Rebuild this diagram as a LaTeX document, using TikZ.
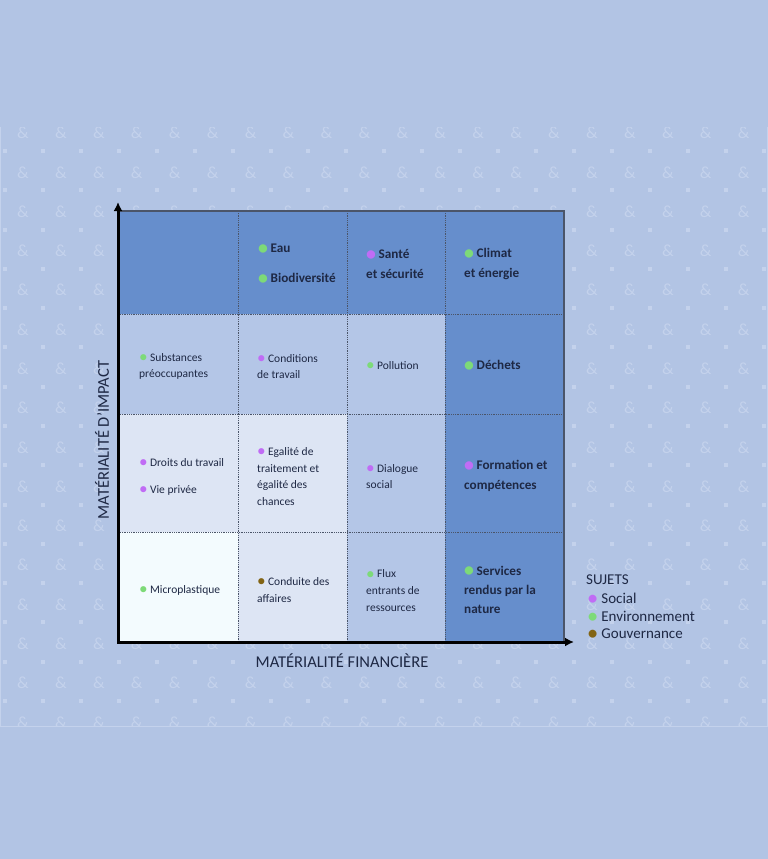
\documentclass[tikz,border=0pt]{standalone}
\usepackage{fontspec}
\setmainfont{Carlito}
\usetikzlibrary{arrows.meta}

\definecolor{bgblue}{RGB}{178,196,228}
\definecolor{pattblue}{RGB}{196,210,236}
\definecolor{celldark}{RGB}{102,142,204}
\definecolor{cellmid}{RGB}{180,198,231}
\definecolor{celllight}{RGB}{221,229,244}
\definecolor{cellpale}{RGB}{243,251,254}
\definecolor{inktext}{RGB}{30,40,68}
\definecolor{gridgray}{RGB}{75,85,105}
\definecolor{soc}{RGB}{192,108,245}
\definecolor{env}{RGB}{125,218,120}
\definecolor{gov}{RGB}{130,100,20}

\newcommand\dotc[1]{{\color{#1}\raisebox{-0.12em}{\scalebox{1.5}{\textbullet}}}\hspace{0.2em}}

\tikzset{
  amp/.style={text=pattblue,font=\fontsize{17}{17}\selectfont,inner sep=0pt},
  bigtxt/.style={text=inktext,font=\fontsize{13.2}{19.3}\selectfont\bfseries,align=left,inner sep=0pt,anchor=west},
  smalltxt/.style={text=inktext,font=\fontsize{11.5}{16.7}\selectfont,align=left,inner sep=0pt,anchor=west},
  axislabel/.style={text=inktext,font=\fontsize{16.5}{16.5}\selectfont,inner sep=0pt},
  legendtxt/.style={text=inktext,font=\fontsize{15}{15}\selectfont,inner sep=0pt,anchor=west},
  gridline/.style={gridgray,densely dotted,line width=0.8pt}
}

\begin{document}
\begin{tikzpicture}[x=1pt,y=-1pt]
    \useasboundingbox (0,0) rectangle (768,859);
    \fill[bgblue] (0,0) rectangle (768,859);

    % background band
    \begin{scope}
        \clip (0,127) rectangle (767,726);
        \foreach \i in {0,...,19}
            \foreach \j in {0,...,15}
                \node[amp] (amp-\i-\j) at (23+37.93*\i,133+39.29*\j) {\&};
        \foreach \i in {0,...,20}
            \foreach \j in {0,...,14}
                \fill[pattblue] (3+37.93*\i,149+39.29*\j) rectangle +(4,4);
    \end{scope}
    \draw[pattblue,line width=0.6pt] (0.5,127) -- (0.5,726) -- (767,726) -- (767,127);

    % cells
    \fill[celldark] (120,211) rectangle (564,314);
    \fill[celldark] (445,314) rectangle (564,641);
    \fill[cellmid] (120,314) rectangle (445,414);
    \fill[cellmid] (347,414) rectangle (445,641);
    \fill[celllight] (120,414) rectangle (347,532);
    \fill[celllight] (238,532) rectangle (347,641);
    \fill[cellpale] (120,532) rectangle (238,641);

    \draw[gridline] (238,211) -- (238,641);
    \draw[gridline] (347,211) -- (347,641);
    \draw[gridline] (445,211) -- (445,641);
    \draw[gridline] (120,314) -- (564,314);
    \draw[gridline] (120,414) -- (564,414);
    \draw[gridline] (120,532) -- (564,532);
    \draw[gridgray,line width=1.3pt] (120,211) -- (564,211) -- (564,641);

    % axes
    \draw[black,line width=3pt,{Latex[length=9pt,width=9pt]}-{Latex[length=9pt,width=9pt]}] (118,202) -- (118,642) -- (574,642);
    \node[axislabel,rotate=90] (impact) at (102,440) {MATÉRIALITÉ D'IMPACT};
    \node[axislabel] (financiere) at (342,661) {MATÉRIALITÉ FINANCIÈRE};

    % row 1
    \node[bigtxt] (eau) at (258,249) {\dotc{env}Eau};
    \node[bigtxt] (biodiv) at (258,279) {\dotc{env}Biodiversité};
    \node[bigtxt] (sante) at (366,264) {\dotc{soc}Santé\\et sécurité};
    \node[bigtxt] (climat) at (464,264) {\dotc{env}Climat\\et énergie};

    % row 2
    \node[smalltxt] (substances) at (139,366.5) {\dotc{env}Substances\\préoccupantes};
    \node[smalltxt] (conditions) at (257,366.5) {\dotc{soc}Conditions\\de travail};
    \node[smalltxt] (pollution) at (366,366) {\dotc{env}Pollution};
    \node[bigtxt] (dechets) at (464,366) {\dotc{env}Déchets};

    % row 3
    \node[smalltxt] (droits) at (139,463) {\dotc{soc}Droits du travail};
    \node[smalltxt] (vie) at (139,490) {\dotc{soc}Vie privée};
    \node[smalltxt] (egalite) at (257,476.5) {\dotc{soc}Egalité de\\traitement et\\égalité des\\chances};
    \node[smalltxt] (dialogue) at (366,476.5) {\dotc{soc}Dialogue\\social};
    \node[bigtxt] (formation) at (464,476) {\dotc{soc}Formation et\\compétences};

    % row 4
    \node[smalltxt] (micro) at (139,590) {\dotc{env}Microplastique};
    \node[smalltxt] (conduite) at (257,590) {\dotc{gov}Conduite des\\affaires};
    \node[smalltxt] (flux) at (366,590.5) {\dotc{env}Flux\\entrants de\\ressources};
    \node[bigtxt] (services) at (464,590) {\dotc{env}Services\\rendus par la\\nature};

    % legend
    \node[legendtxt] (sujets) at (586,580) {SUJETS};
    \node[legendtxt] (social) at (587,599) {\dotc{soc}Social};
    \node[legendtxt] (environnement) at (587,617) {\dotc{env}Environnement};
    \node[legendtxt] (gouvernance) at (587,635) {\dotc{gov}Gouvernance};
\end{tikzpicture}
\end{document}
